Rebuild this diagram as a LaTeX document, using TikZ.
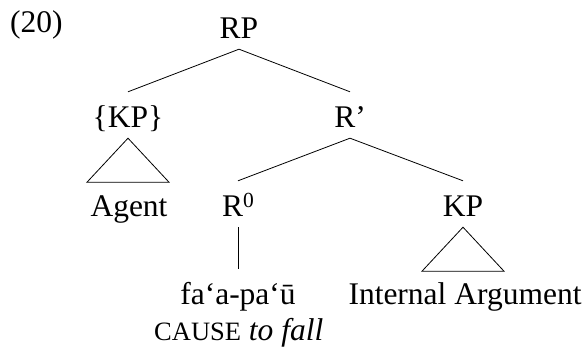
\documentclass[tikz,border=0pt]{standalone}
\usepackage{fontspec}
\setmainfont{Liberation Serif}
\tikzset{
  lab/.style={font=\fontsize{31.5}{36}\selectfont, inner sep=0pt, anchor=base},
  tn/.style={lab, text height=36pt, text depth=10pt},
  br/.style={line width=0.8pt},
}
\begin{document}
\begin{tikzpicture}[x=1pt,y=-1pt]
\useasboundingbox (0,0) rectangle (584,347);
\node[lab, anchor=base west] (num) at (10,33) {(20)};
\node[tn] (RP) at (239,39) {RP};
\node[tn] (KPa) at (128,128) {\{KP\}};
\node[tn] (Rbar) at (350,128) {R'};
\node[tn] (agent) at (129,217) {Agent};
\node[tn] (R0) at (238,217) {R\raisebox{9pt}{\fontsize{21.5}{24}\selectfont 0}};
\node[tn] (KPb) at (463,217) {KP};
\node[tn] (fa) at (238,305) {fa‘a-pa‘ū};
\node[tn] (intarg) at (465,305) {Internal Argument};
\node[lab, anchor=base west] (cause) at (154,341) {{\fontsize{26.5}{30}\selectfont CAUSE} \textit{to fall}};
\draw[br] (RP.south) -- (KPa.north);
\draw[br] (RP.south) -- (Rbar.north);
\draw[br] (Rbar.south) -- (R0.north);
\draw[br] (Rbar.south) -- (KPb.north);
\draw[br] (R0.south) -- (fa.north);
\draw[br, line join=miter] (KPa.south) -- ++(-41,44) -- ++(82,0) -- cycle;
\draw[br, line join=miter] (KPb.south) -- ++(-41,44) -- ++(82,0) -- cycle;
\end{tikzpicture}
\end{document}
